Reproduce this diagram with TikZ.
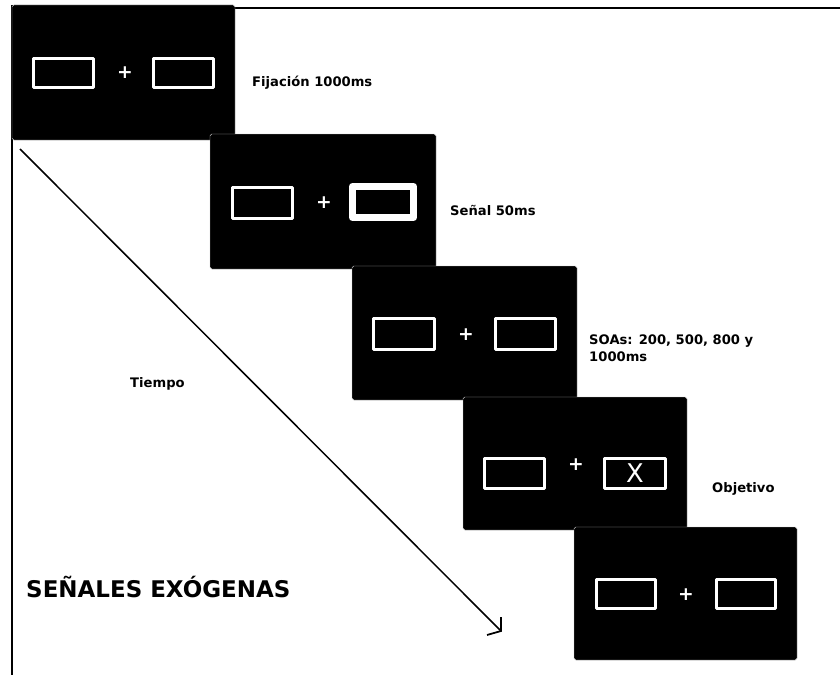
\documentclass[tikz,border=0pt]{standalone}
\usepackage{fontspec}
\setmainfont{DejaVu Sans}
\begin{document}
\begin{tikzpicture}[x=0.03cm,y=-0.03cm,
  panel/.style={fill=black, draw=gray!50, line width=0.4pt, rounded corners=1.5pt},
  cue/.style={draw=white, line width=2.6pt, line join=round},
  bigcue/.style={draw=white, line width=6pt, line join=round},
  plussign/.style={text=white, font=\fontsize{16}{16}\selectfont\bfseries, inner sep=0pt},
  lbl/.style={anchor=west, font=\fontsize{11.2}{14.5}\selectfont\bfseries, inner sep=0pt, align=left},
  frameline/.style={line width=2.4pt}]
\useasboundingbox (0,0) rectangle (840,675);
% frame
\draw[frameline] (12,5) -- (12,675);
\draw[frameline] (235,8) -- (840,8);
% panel 1
\draw[panel] (12,5) rectangle (235,140);
\draw[cue] (33.5,58.5) rectangle (93.5,87.5);
\draw[cue] (153.5,58.5) rectangle (213.5,87.5);
\node[plussign] (plus1) at (125,73) {+};
% panel 2
\draw[panel] (210,134) rectangle (436,269);
\draw[cue] (232.5,187.5) rectangle (292.5,218.5);
\draw[bigcue] (352.5,186.5) rectangle (413.5,217.5);
\node[plussign] (plus2) at (324,203) {+};
% panel 3
\draw[panel] (352,266) rectangle (577,400);
\draw[cue] (373.5,318.5) rectangle (434.5,349.5);
\draw[cue] (495.5,318.5) rectangle (555.5,349.5);
\node[plussign] (plus3) at (466,335) {+};
% panel 4
\draw[panel] (463,397) rectangle (687,530);
\draw[cue] (484.5,458.5) rectangle (544.5,488.5);
\draw[cue] (604.5,458.5) rectangle (665.5,488.5);
\node[plussign] (plus4) at (576,465) {+};
\node[text=white, font=\fontsize{22}{22}\selectfont, inner sep=0pt] (xtarget) at (635,473) {X};
% panel 5
\draw[panel] (574,527) rectangle (797,660);
\draw[cue] (596.5,579.5) rectangle (655.5,608.5);
\draw[cue] (716.5,579.5) rectangle (775.5,608.5);
\node[plussign] (plus5) at (686,595) {+};
% labels
\node[lbl] (fij) at (252,83) {Fijación 1000ms};
\node[lbl] (sen) at (450,210) {Señal 50ms};
\node[lbl] (soa) at (589,348) {SOAs: 200, 500, 800 y\\1000ms};
\node[lbl] (obj) at (712,489) {Objetivo};
\node[lbl] (tiempo) at (130,384) {Tiempo};
\node[lbl, font=\fontsize{19.6}{22}\selectfont\bfseries] (title) at (26,587) {SEÑALES EXÓGENAS};
% time arrow
\coordinate (tstart) at (20,149);
\coordinate (tend) at (501,631);
\coordinate (hookA) at (501,617);
\coordinate (hookB) at (487,635);
\draw[line width=1.3pt] (tstart) -- (tend);
\draw[line width=1.5pt] (hookA) -- (tend) -- (hookB);
\end{tikzpicture}
\end{document}
